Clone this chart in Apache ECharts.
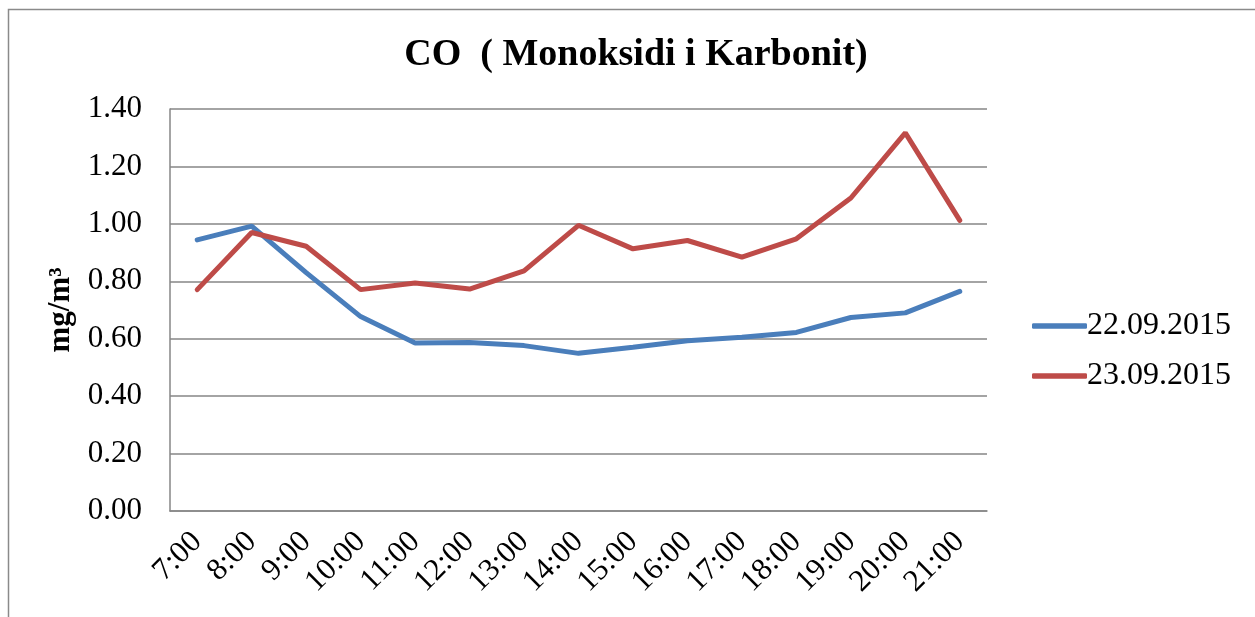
<!DOCTYPE html>
<html>
<head>
<meta charset="utf-8">
<script src="https://cdn.jsdelivr.net/npm/echarts@6/dist/echarts.min.js"></script>
<style>
  html, body { margin: 0; padding: 0; background: #fff; }
  #chart { width: 1255px; height: 617px; }
</style>
</head>
<body>
<div id="chart"></div>
<script>
// hours of the day
let hours = ['7:00','8:00','9:00','10:00','11:00','12:00','13:00','14:00','15:00','16:00','17:00','18:00','19:00','20:00','21:00'];
// CO values, mg/m3
let day22 = [0.944, 0.992, 0.830, 0.677, 0.585, 0.587, 0.576, 0.549, 0.570, 0.593, 0.605, 0.622, 0.674, 0.690, 0.765];
let day23 = [0.771, 0.970, 0.922, 0.771, 0.794, 0.773, 0.836, 0.995, 0.913, 0.942, 0.884, 0.948, 1.090, 1.317, 1.012];
let seriesNames = ['22.09.2015', '23.09.2015'];

let font = '"Liberation Serif", "Times New Roman", serif';

let plot = echarts.init(document.getElementById('chart'));

let option = {
    backgroundColor: '#fff',
    animation: false,
    title: {
        text: 'CO  ( Monoksidi i Karbonit)',
        left: 631,
        textAlign: 'center',
        top: 31,
        textStyle: { fontFamily: font, fontWeight: 'bold', fontSize: 38, color: '#000' }
    },
    graphic: [{
        type: 'rect',
        shape: { x: 8.5, y: 9.5, width: 1260, height: 620 },
        style: { fill: 'none', stroke: '#8a8a8a', lineWidth: 1.5 },
        silent: true
    }],
    legend: {
        orient: 'vertical',
        left: 1027,
        top: 305,
        itemGap: 18,
        itemWidth: 55,
        itemHeight: 5.5,
        icon: 'roundRect',
        data: seriesNames,
        textStyle: { fontFamily: font, fontSize: 32, color: '#000', padding: [0, 0, 0, -5] }
    },
    grid: {
        left: 170,
        right: 268,
        top: 109,
        bottom: 106,
        containLabel: false
    },
    xAxis: {
        type: 'category',
        data: hours,
        boundaryGap: true,
        axisLine: { lineStyle: { color: '#868686', width: 1.5 } },
        axisTick: { show: false },
        axisLabel: {
            rotate: 45,
            margin: 26,
            interval: 0,
            fontFamily: font,
            fontSize: 31,
            color: '#000'
        }
    },
    yAxis: {
        type: 'value',
        min: 0,
        max: 1.4,
        interval: 0.2,
        name: 'mg/m³',
        nameLocation: 'middle',
        nameGap: 94,
        nameTextStyle: { fontFamily: font, fontWeight: 'bold', fontSize: 31, color: '#000' },
        axisLine: { show: true, lineStyle: { color: '#868686', width: 1.5 } },
        axisTick: { show: false },
        splitLine: { lineStyle: { color: '#868686', width: 1.5 } },
        axisLabel: {
            margin: 28,
            fontFamily: font,
            fontSize: 31,
            color: '#000',
            formatter: function(v){ return v.toFixed(2); }
        }
    },
    series: [{
        name: seriesNames[0],
        type: 'line',
        data: day22,
        symbol: 'none',
        color: '#4A7EBB',
        lineStyle: { width: 5, color: '#4A7EBB', cap: 'round' }
    }, {
        name: seriesNames[1],
        type: 'line',
        data: day23,
        symbol: 'none',
        color: '#BE4B48',
        lineStyle: { width: 5, color: '#BE4B48', cap: 'round' }
    }]
};
plot.setOption(option);
</script>
</body>
</html>
